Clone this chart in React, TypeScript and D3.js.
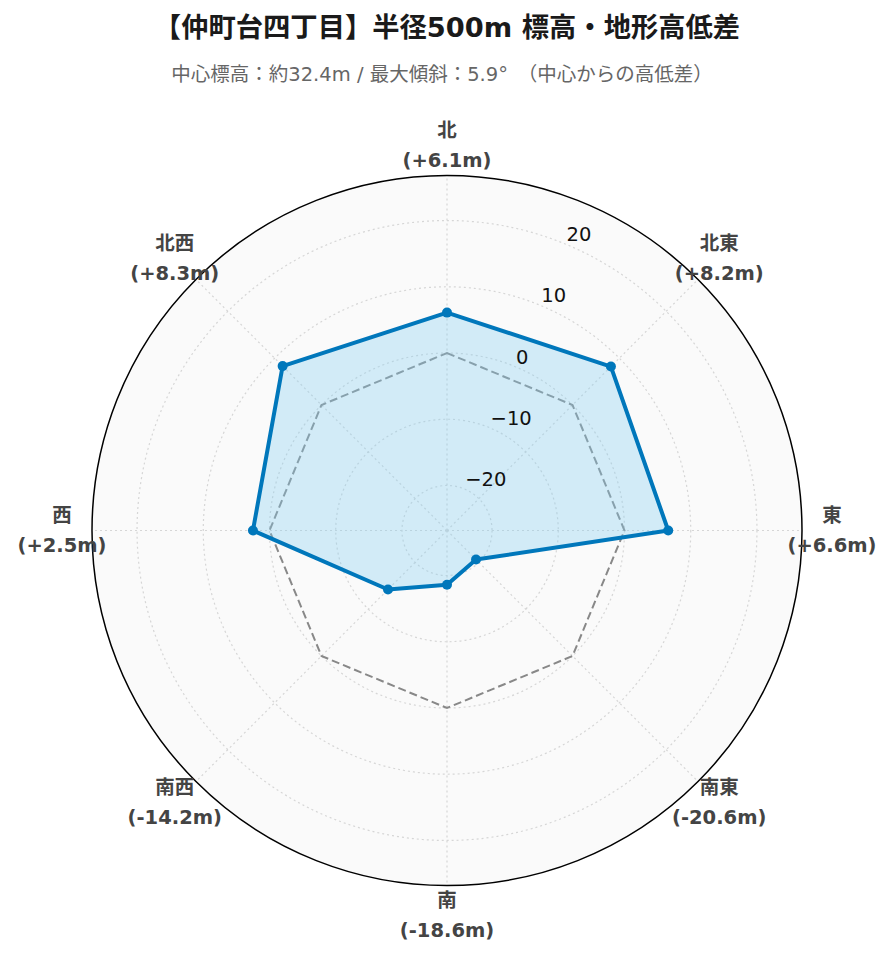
import { useEffect, useRef } from 'react';
import * as d3 from 'd3';

// 方位ごとの高低差（中心からの差, m）
const directions = ['北', '北東', '東', '南東', '南', '南西', '西', '北西'];
const diffs = [6.1, 8.2, 6.6, -20.6, -18.6, -14.2, 2.5, 8.3];
const radialTicks = [-20, -10, 0, 10, 20];
const radialRange = [-26.8, 26.8];

const titleText = '【仲町台四丁目】半径500m 標高・地形高低差';
const subtitleText = '中心標高：約32.4m / 最大傾斜：5.9°　（中心からの高低差）';

const FONT = '"DejaVu Sans", "Noto Sans CJK JP", sans-serif';

const fmt = (v: number) => `(${v >= 0 ? '+' : ''}${v.toFixed(1)}m)`;

export default function App() {
  const svgRef = useRef<SVGSVGElement>(null);

  useEffect(() => {
    if (!svgRef.current) return;
    const width = 893;
    const height = 962;
    const cx = 447;
    const cy = 530.5;
    const R = 355;

    const svg = d3.select(svgRef.current);
    svg.selectAll('*').remove();
    svg.attr('width', width).attr('height', height);

    svg.append('rect').attr('width', width).attr('height', height).attr('fill', '#fff');

    svg.append('text')
      .attr('x', 447).attr('y', 27)
      .attr('text-anchor', 'middle').attr('dominant-baseline', 'central')
      .style('font-family', FONT).style('font-size', '27.3px').style('font-weight', 'bold')
      .style('fill', '#1a1a1a')
      .text(titleText);

    svg.append('text')
      .attr('x', 442).attr('y', 74)
      .attr('text-anchor', 'middle').attr('dominant-baseline', 'central')
      .style('font-family', FONT).style('font-size', '19.5px')
      .style('fill', '#666')
      .text(subtitleText);

    const r = d3.scaleLinear().domain(radialRange).range([0, R]);
    const angle = d3.scaleLinear().domain([0, directions.length]).range([0, 2 * Math.PI]);

    const g = svg.append('g').attr('transform', `translate(${cx},${cy})`);

    g.append('circle').attr('r', R).attr('fill', '#fafafa');

    // grid circles
    g.selectAll('.ring')
      .data(radialTicks)
      .enter()
      .append('circle')
      .attr('r', d => r(d))
      .attr('fill', 'none')
      .attr('stroke', '#d6d6d6')
      .attr('stroke-width', 1.2)
      .attr('stroke-dasharray', '2,3');

    // spokes
    g.selectAll('.spoke')
      .data(directions)
      .enter()
      .append('line')
      .attr('x1', 0).attr('y1', 0)
      .attr('x2', (_, i) => R * Math.sin(angle(i)))
      .attr('y2', (_, i) => -R * Math.cos(angle(i)))
      .attr('stroke', '#d6d6d6')
      .attr('stroke-width', 1.2)
      .attr('stroke-dasharray', '2,3');

    const line = d3.lineRadial<number>()
      .angle((_, i) => angle(i))
      .radius(d => r(d))
      .curve(d3.curveLinearClosed);

    // 0m reference
    g.append('path')
      .attr('d', line(directions.map(() => 0)))
      .attr('fill', 'none')
      .attr('stroke', '#888')
      .attr('stroke-width', 2)
      .attr('stroke-dasharray', '8,4');

    g.append('path')
      .attr('d', line(diffs))
      .attr('fill', 'rgba(135,206,240,0.35)')
      .attr('stroke', '#0077bb')
      .attr('stroke-width', 4)
      .attr('stroke-linejoin', 'round');

    g.selectAll('.pt')
      .data(diffs)
      .enter()
      .append('circle')
      .attr('cx', (d, i) => r(d) * Math.sin(angle(i)))
      .attr('cy', (d, i) => -r(d) * Math.cos(angle(i)))
      .attr('r', 5)
      .attr('fill', '#0077bb');

    // outer border
    g.append('circle').attr('r', R).attr('fill', 'none').attr('stroke', '#000').attr('stroke-width', 1.5);

    // radial tick labels
    const tickAngle = Math.PI / 8;
    g.selectAll('.rtick')
      .data(radialTicks)
      .enter()
      .append('text')
      .attr('x', d => r(d) * Math.sin(tickAngle) + 1)
      .attr('y', d => -r(d) * Math.cos(tickAngle) - 9.5)
      .attr('text-anchor', 'start')
      .attr('dominant-baseline', 'central')
      .style('font-family', FONT).style('font-size', '19.5px')
      .style('fill', '#111')
      .text(d => (d < 0 ? `\u2212${Math.abs(d)}` : `${d}`));

    // angular labels
    const labelR = R + 30;
    const lab = g.selectAll('.alab')
      .data(directions)
      .enter()
      .append('text')
      .attr('text-anchor', 'middle')
      .style('font-family', FONT).style('font-size', '19.5px').style('font-weight', 'bold')
      .style('fill', '#444');
    lab.append('tspan')
      .attr('x', (_, i) => labelR * Math.sin(angle(i)))
      .attr('y', (_, i) => -labelR * Math.cos(angle(i)) - 15)
      .attr('dominant-baseline', 'central')
      .text(d => d);
    lab.append('tspan')
      .attr('x', (_, i) => labelR * Math.sin(angle(i)))
      .attr('y', (_, i) => -labelR * Math.cos(angle(i)) + 15)
      .attr('dominant-baseline', 'central')
      .text((_, i) => fmt(diffs[i]));
  }, []);

  return (
    <div style={{ position: 'absolute', left: 0, top: 0 }}>
      <svg ref={svgRef} style={{ display: 'block' }} />
    </div>
  );
}
